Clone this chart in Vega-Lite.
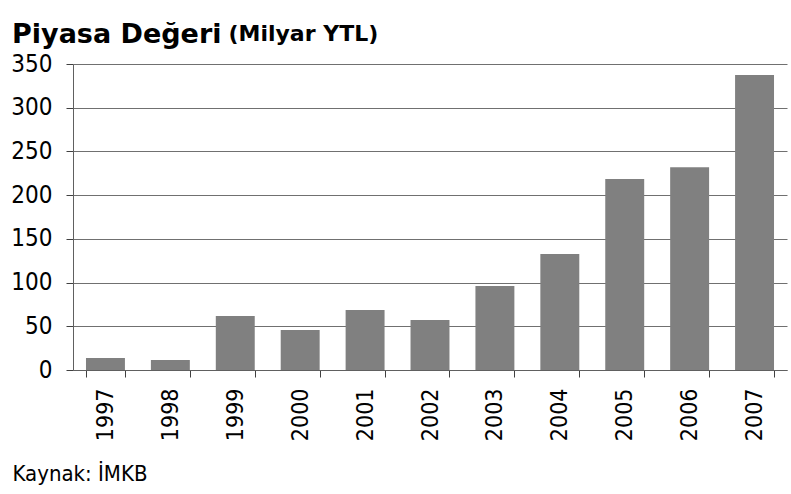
{
  "$schema": "https://vega.github.io/schema/vega-lite/v6.json",
  "width": 714,
  "height": 306,
  "autosize": "none",
  "padding": {"left": 73, "top": 64, "right": 4, "bottom": 124},
  "background": "white",
  "title": {
    "text": "Piyasa Değeri",
    "anchor": "start",
    "frame": "group",
    "dx": -61,
    "offset": -48,
    "baseline": "alphabetic",
    "font": "DejaVu Sans",
    "fontSize": 27,
    "fontWeight": "bold",
    "color": "black"
  },
  "data": {
    "values": [
      {"yil": "1997", "deger": 13.7},
      {"yil": "1998", "deger": 11.4},
      {"yil": "1999", "deger": 61.8},
      {"yil": "2000", "deger": 45.8},
      {"yil": "2001", "deger": 68.6},
      {"yil": "2002", "deger": 57.2},
      {"yil": "2003", "deger": 96},
      {"yil": "2004", "deger": 132.7},
      {"yil": "2005", "deger": 218.5},
      {"yil": "2006", "deger": 232},
      {"yil": "2007", "deger": 337.5}
    ]
  },
  "mark": {"type": "bar", "color": "#808080"},
  "encoding": {
    "x": {
      "field": "yil",
      "type": "nominal",
      "sort": null,
      "scale": {"paddingInner": 0.4, "paddingOuter": 0.2},
      "axis": {
        "title": "Kaynak: İMKB",
        "titleAnchor": "start",
        "titleAlign": "left",
        "titleBaseline": "alphabetic",
        "titleX": -61,
        "titleY": 110,
        "titleFont": "DejaVu Sans Condensed",
        "titleFontSize": 22,
        "titleFontWeight": "normal",
        "titleColor": "black",
        "labelAngle": 270,
        "labelAlign": "right",
        "labelBaseline": "middle",
        "labelFont": "DejaVu Sans Condensed",
        "labelFontSize": 23,
        "labelColor": "black",
        "labelPadding": 11,
        "tickBand": "extent",
        "tickSize": 7,
        "tickColor": "#404040",
        "domainColor": "#606060",
        "grid": false
      }
    },
    "y": {
      "field": "deger",
      "type": "quantitative",
      "scale": {"domain": [0, 350], "nice": false},
      "axis": {
        "title": "(Milyar YTL)",
        "titleAngle": 0,
        "titleAlign": "left",
        "titleBaseline": "alphabetic",
        "titleX": 155,
        "titleY": -24,
        "titleFont": "DejaVu Sans",
        "titleFontSize": 22,
        "titleFontWeight": "bold",
        "titleColor": "black",
        "values": [0, 50, 100, 150, 200, 250, 300, 350],
        "labelFont": "DejaVu Sans Condensed",
        "labelFontSize": 24,
        "labelColor": "black",
        "labelPadding": 14,
        "tickSize": 7,
        "tickColor": "#404040",
        "domainColor": "#606060",
        "grid": true,
        "gridColor": "#707070",
        "gridOpacity": 1
      }
    }
  },
  "config": {"view": {"stroke": null}}
}
